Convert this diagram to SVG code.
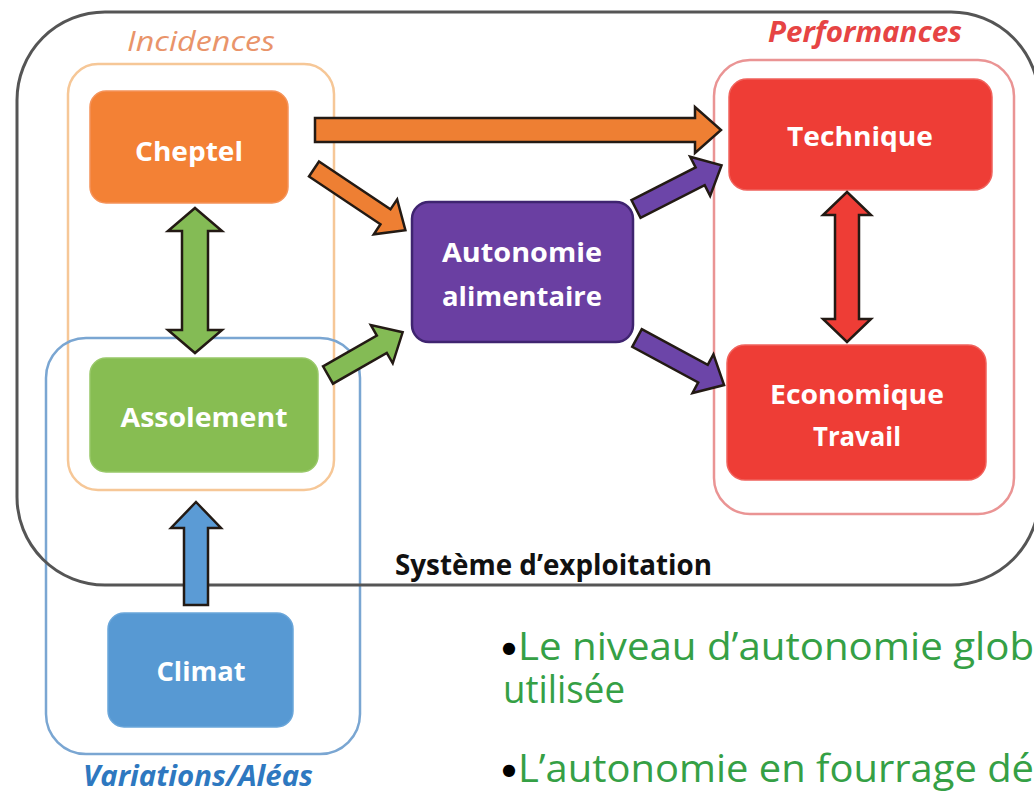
<svg xmlns="http://www.w3.org/2000/svg" width="1034" height="792" viewBox="0 0 1034 792">
  <style>
    .frame { fill: none; stroke-width: 2.5; }
    .node-label { font-family: "Open Sans", "Liberation Sans", sans-serif; font-weight: 700; font-size: 27px; fill: #ffffff; text-anchor: middle; }
    .group-label { font-family: "Open Sans", "Liberation Sans", sans-serif; font-style: italic; font-size: 28px; }
    .arrow { stroke: #231a14; stroke-width: 2.5; stroke-linejoin: miter; }
    .bullet-text { font-family: "Open Sans", "Liberation Sans", sans-serif; font-size: 39px; fill: #35a045; }
    .dot { font-family: "DejaVu Sans", sans-serif; font-size: 16px; fill: #000000; }
  </style>

  <rect width="1034" height="792" fill="#ffffff"/>

  <!-- Grouping frames -->
  <g id="frame-incidences">
    <rect class="frame" x="68" y="64" width="266" height="426" rx="30" stroke="#f6c797"/>
    <text class="group-label" x="127" y="51" fill="#e9946a" textLength="148" lengthAdjust="spacingAndGlyphs">Incidences</text>
  </g>
  <g id="frame-variations">
    <rect class="frame" x="46" y="338" width="314" height="416" rx="40" stroke="#7aa6d2"/>
    <text class="group-label" x="83" y="786" fill="#2e78c0" font-weight="700" textLength="230" lengthAdjust="spacingAndGlyphs">Variations/Aléas</text>
  </g>
  <g id="frame-performances">
    <rect class="frame" x="714" y="60" width="300" height="454" rx="36" stroke="#ea9494"/>
    <text class="group-label" x="768" y="42" fill="#e64444" font-weight="700" textLength="194" lengthAdjust="spacingAndGlyphs">Performances</text>
  </g>
  <g id="frame-systeme">
    <rect x="17" y="12" width="1022" height="573" rx="88" fill="none" stroke="#555555" stroke-width="3"/>
    <text x="395" y="575" font-family="Open Sans, Liberation Sans, sans-serif" font-weight="700" font-size="28" fill="#111111" textLength="317" lengthAdjust="spacingAndGlyphs">Système d’exploitation</text>
  </g>

  <!-- Nodes -->
  <g id="node-cheptel">
    <rect x="90" y="91" width="198" height="112" rx="16" fill="#f38135" stroke="#f5935a" stroke-width="1.5"/>
    <text class="node-label" x="189" y="161" textLength="108" lengthAdjust="spacingAndGlyphs">Cheptel</text>
  </g>
  <g id="node-assolement">
    <rect x="90" y="358" width="228" height="114" rx="16" fill="#87bd52" stroke="#98c868" stroke-width="1.5"/>
    <text class="node-label" x="204" y="427" textLength="167" lengthAdjust="spacingAndGlyphs">Assolement</text>
  </g>
  <g id="node-climat">
    <rect x="108" y="613" width="185" height="114" rx="16" fill="#5799d3" stroke="#6aa6da" stroke-width="1.5"/>
    <text class="node-label" x="201" y="681" textLength="89" lengthAdjust="spacingAndGlyphs">Climat</text>
  </g>
  <g id="node-autonomie">
    <rect x="412" y="202" width="221" height="140" rx="17" fill="#6a3fa2" stroke="#3f2470" stroke-width="2.5"/>
    <text class="node-label" x="522" y="262" textLength="160" lengthAdjust="spacingAndGlyphs">Autonomie</text>
    <text class="node-label" x="522" y="306" textLength="160" lengthAdjust="spacingAndGlyphs">alimentaire</text>
  </g>
  <g id="node-technique">
    <rect x="729" y="79" width="263" height="111" rx="18" fill="#ee3d36" stroke="#f0625c" stroke-width="1.5"/>
    <text class="node-label" x="860" y="146" textLength="146" lengthAdjust="spacingAndGlyphs">Technique</text>
  </g>
  <g id="node-economique">
    <rect x="727" y="345" width="259" height="135" rx="18" fill="#ee3d36" stroke="#f0625c" stroke-width="1.5"/>
    <text class="node-label" x="857" y="404" textLength="174" lengthAdjust="spacingAndGlyphs">Economique</text>
    <text class="node-label" x="857" y="446" textLength="88" lengthAdjust="spacingAndGlyphs">Travail</text>
  </g>

  <!-- Connectors: block arrows -->
  <g id="connectors">
    <!-- Cheptel -> Technique -->
    <polygon class="arrow" fill="#ee7f33" points="315,118 695,118 695,107 721,130 695,153 695,142 315,142"/>
    <!-- Cheptel -> Autonomie -->
    <polygon class="arrow" fill="#ee7f33" transform="translate(314,169) rotate(33.8)" points="0,-9 86,-9 86,-21 110,0 86,21 86,9 0,9"/>
    <!-- Cheptel <-> Assolement -->
    <polygon class="arrow" fill="#84bb55" points="195,208 222,231 208,231 208,330 222,330 195,353 168,330 182,330 182,231 168,231"/>
    <!-- Assolement -> Autonomie -->
    <polygon class="arrow" fill="#84bb55" transform="translate(328,375) rotate(-29.8)" points="0,-10 62,-10 62,-22 86,0 62,22 62,10 0,10"/>
    <!-- Climat -> Assolement -->
    <polygon class="arrow" fill="#5b9bd5" points="196,502 221,528 208,528 208,605 184,605 184,528 171,528"/>
    <!-- Autonomie -> Technique -->
    <polygon class="arrow" fill="#6c45a8" transform="translate(636,209) rotate(-27)" points="0,-10 72,-10 72,-22 96,0 72,22 72,10 0,10"/>
    <!-- Autonomie -> Economique -->
    <polygon class="arrow" fill="#6c45a8" transform="translate(637,338) rotate(28.4)" points="0,-10 75,-10 75,-22 99,0 75,22 75,10 0,10"/>
    <!-- Technique <-> Economique -->
    <polygon class="arrow" fill="#ee3d36" points="847,192 871,215 859,215 859,319 871,319 847,342 823,319 835,319 835,215 823,215"/>
  </g>

  <!-- Bullet notes -->
  <g id="notes">
    <text class="bullet-text"><tspan class="dot" x="502" y="653">●</tspan><tspan x="518" y="660" textLength="516" lengthAdjust="spacingAndGlyphs">Le niveau d’autonomie glob</tspan><tspan x="503" y="703" textLength="122" lengthAdjust="spacingAndGlyphs">utilisée</tspan></text>
    <text class="bullet-text"><tspan class="dot" x="502" y="775">●</tspan><tspan x="518" y="782" textLength="516" lengthAdjust="spacingAndGlyphs">L’autonomie en fourrage dé</tspan></text>
  </g>
</svg>
